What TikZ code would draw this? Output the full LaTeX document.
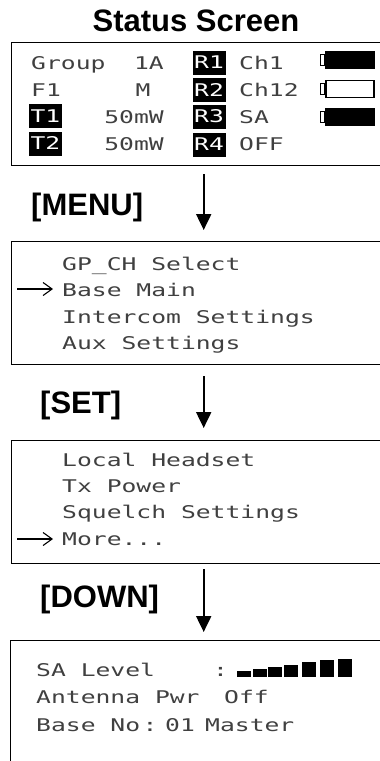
\documentclass[tikz,border=0pt]{standalone}
\usepackage{fontspec}
\setmainfont{Liberation Sans}
\newfontfamily\lcdfont[FakeStretch=1.41]{DejaVu Sans Mono}
\usetikzlibrary{arrows.meta, positioning}

\begin{document}
\begin{tikzpicture}[
        x=1pt, y=-1pt,
        >={Triangle[length=16pt, width=15pt]},
        screen/.style={draw, line width=1.4pt, anchor=north west, minimum width=390pt, minimum height=123pt, inner sep=0pt},
        lcd/.style={font=\lcdfont\fontsize{17.5}{20}\selectfont, text=black!75, anchor=base west, inner sep=0pt},
        key/.style={font=\fontsize{31}{36}\selectfont\bfseries, anchor=base west, inner sep=0pt},
        tag/.style={fill=black, text=white, font=\lcdfont\fontsize{17.5}{20}\selectfont, minimum width=33pt, minimum height=24pt, inner sep=0pt},
        batt/.style={draw, line width=1.2pt, minimum width=48pt, minimum height=17pt, inner sep=0pt},
        nub/.style={draw, line width=1.2pt, fill=white, minimum width=4.3pt, minimum height=11.5pt, inner sep=0pt, anchor=east},
        flow/.style={->, line width=2pt},
        pointer/.style={-{Straight Barb[length=9pt, width=13pt]}, line width=1.1pt}
    ]
        \useasboundingbox (0,0) rectangle (380,761);

        % --- Status screen ---
        \node[font=\fontsize{31}{36}\selectfont\bfseries, anchor=base, inner sep=0pt] (title) at (196,31) {Status Screen};
        \node[screen] (scr1) at (11,42) {};
        \node[lcd] (group) at (31,69.5) {Group};
        \node[lcd, anchor=base east] (grpid) at (164,69.5) {1A};
        \node[lcd] (f1) at (31,96.5) {F1};
        \node[lcd] (mode) at (135.5,96.5) {M};
        \node[tag] (t1) at (45.5,116) {T1};
        \node[lcd, anchor=base east] (t1pwr) at (164,123) {50mW};
        \node[tag] (t2) at (45.5,143.5) {T2};
        \node[lcd, anchor=base east] (t2pwr) at (164,150) {50mW};
        \node[tag] (r1) at (209,62.5) {R1};
        \node[tag] (r2) at (209,90) {R2};
        \node[tag] (r3) at (209,116.5) {R3};
        \node[tag] (r4) at (209,144.5) {R4};
        \node[lcd] (r1ch) at (239,69.5) {Ch1};
        \node[lcd] (r2ch) at (239,96.5) {Ch12};
        \node[lcd] (r3ch) at (239,123) {SA};
        \node[lcd] (r4ch) at (239,150) {OFF};
        \node[batt, fill=black] (bat1) at (350,60) {};
        \node[nub] (nub1) at (bat1.west) {};
        \node[batt] (bat2) at (350,89) {};
        \node[nub] (nub2) at (bat2.west) {};
        \node[batt, fill=black] (bat3) at (350,117) {};
        \node[nub] (nub3) at (bat3.west) {};

        % --- Base main menu ---
        \node[key] (menu) at (31,215) {[MENU]};
        \node[screen] (scr2) at (11,241) {};
        \node[lcd] (gpch) at (62,270) {GP\_CH Select};
        \node[lcd] (basemain) at (62,296.5) {Base Main};
        \node[lcd] (icom) at (62,323) {Intercom Settings};
        \node[lcd] (aux) at (62,349.5) {Aux Settings};
        \coordinate (sel2) at (17,289);

        % --- Base main submenu ---
        \node[key] (set) at (40,413) {[SET]};
        \node[screen] (scr3) at (11,440) {};
        \node[lcd] (headset) at (62,466) {Local Headset};
        \node[lcd] (txpwr) at (62,492) {Tx Power};
        \node[lcd] (squelch) at (62,518.5) {Squelch Settings};
        \node[lcd] (more) at (62,545) {More...};
        \coordinate (sel3) at (17,539);

        % --- More page ---
        \node[key] (down) at (40,607) {[DOWN]};
        \node[screen, minimum height=140pt] (scr4) at (10,640) {};
        \node[lcd] (salevel) at (36,676) {SA Level};
        \node[lcd, anchor=base] (sacolon) at (220.5,676) {:};
        \node[lcd] (antenna) at (36,703.5) {Antenna Pwr};
        \node[lcd] (antoff) at (224,703.5) {Off};
        \node[lcd] (baseno) at (36,731) {Base No};
        \node[lcd, anchor=base] (bncolon) at (150,731) {:};
        \node[lcd] (bnval) at (165,731) {01};
        \node[lcd] (bnrole) at (205,731) {Master};
        \foreach \x/\t in {236.7/671, 252.7/669, 268.3/667, 284.3/665, 301.7/662, 320/660, 337.7/659}
            \fill (\x,\t) rectangle (\x+14,676.5);

        % --- Arrows ---
        \draw[flow, shorten <=8pt, shorten >=11pt] ([xshift=-3pt]scr1.south) -- ([xshift=-3pt]scr2.north);
        \draw[flow, shorten <=11pt, shorten >=12pt] ([xshift=-3pt]scr2.south) -- ([xshift=-3pt]scr3.north);
        \draw[flow, shorten <=5pt, shorten >=8pt] ([xshift=-3pt]scr3.south) -- ([xshift=-3pt]scr3.south |- scr4.north);
        \draw[pointer] (sel2) -- ([xshift=-9pt]sel2 -| basemain.west);
        \draw[pointer] (sel3) -- ([xshift=-9pt]sel3 -| more.west);
    \end{tikzpicture}
\end{document}
